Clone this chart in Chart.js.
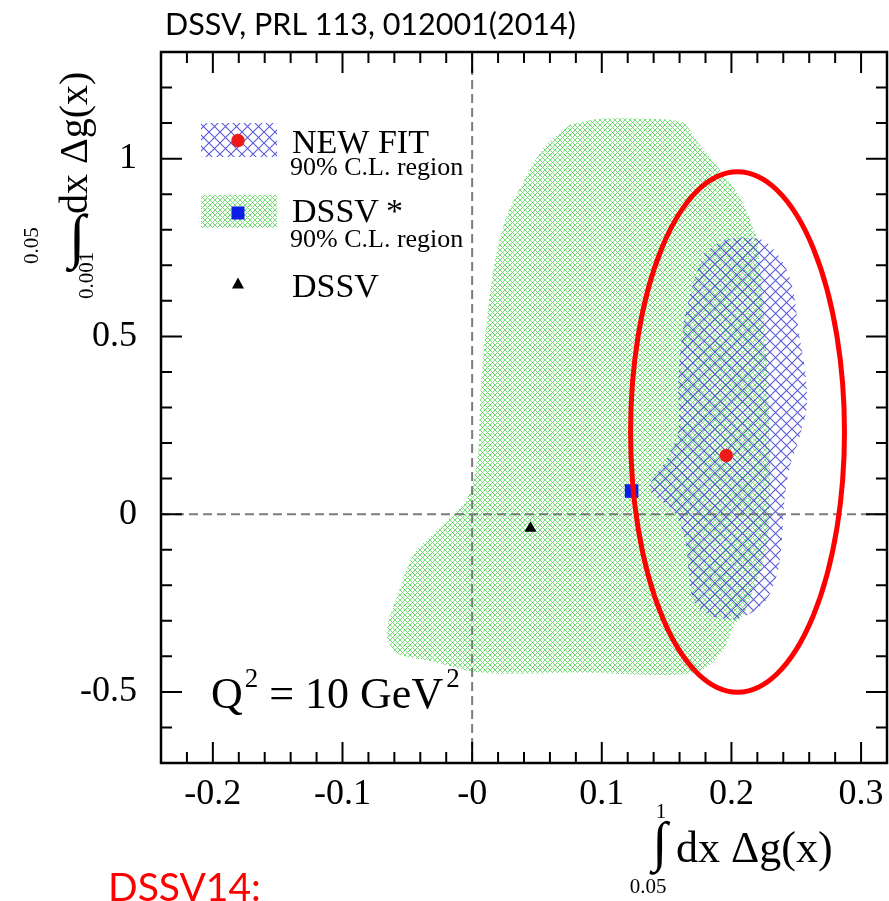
<!DOCTYPE html>
<html>
<head>
<meta charset="utf-8">
<script src="https://cdn.jsdelivr.net/npm/chart.js@4.4.0/dist/chart.umd.min.js"></script>
<style>
  html, body { margin: 0; padding: 0; background: #ffffff; }
  #wrap { width: 889px; height: 901px; position: relative; }
</style>
</head>
<body>
<div id="wrap"><canvas id="c" width="889" height="901"></canvas></div>
<script>
// ---- axis ticks ----
const xTickValues = [-0.2, -0.1, 0, 0.1, 0.2, 0.3];
const xTickLabels = ['-0.2', '-0.1', '-0', '0.1', '0.2', '0.3'];
const yTickValues = [-0.5, 0, 0.5, 1];
const yTickLabels = ['-0.5', '0', '0.5', '1'];

// ---- DSSV* 90% C.L. region (outline, clockwise) ----
const dssvStarRegionX = [0.075, 0.098, 0.137, 0.163, 0.172, 0.189, 0.205, 0.215, 0.220, 0.228, 0.228, 0.210,
  0.202, 0.194, 0.179, 0.158, 0.085, 0.007, -0.032, -0.058, -0.066, -0.056, -0.045, -0.027, -0.004,
  0.004, 0.007, 0.015, 0.025, 0.041, 0.056];
const dssvStarRegionY = [1.095, 1.112, 1.112, 1.101, 1.056, 0.978, 0.900, 0.822, 0.767, 0.377, -0.068, -0.279,
  -0.313, -0.379, -0.435, -0.452, -0.446, -0.446, -0.413, -0.391, -0.335, -0.213, -0.112, -0.046, 0.043,
  0.155, 0.377, 0.655, 0.822, 0.945, 1.034];

// ---- NEW FIT 90% C.L. region (outline, clockwise) ----
const newFitRegionX = [0.179, 0.192, 0.210, 0.226, 0.241, 0.248, 0.252, 0.257, 0.258, 0.252, 0.245, 0.241,
  0.239, 0.236, 0.228, 0.215, 0.202, 0.184, 0.171, 0.167, 0.164, 0.155, 0.137, 0.150, 0.159, 0.159,
  0.163, 0.171];
const newFitRegionY = [0.733, 0.767, 0.778, 0.767, 0.700, 0.622, 0.511, 0.400, 0.299, 0.210, 0.132, 0.043,
  -0.068, -0.157, -0.235, -0.279, -0.296, -0.285, -0.246, -0.157, -0.068, 0.010, 0.071, 0.155, 0.232, 0.377,
  0.533, 0.655];

// ---- central values ----
const newFitX = [0.196], newFitY = [0.165];
const dssvStarX = [0.123], dssvStarY = [0.065];
const dssvX = [0.045], dssvY = [-0.04];

// highlighted area around the new fit (centre and semi-axes in axis units)
const highlight = { cx: 0.2047, cy: 0.231, rx: 0.0825, ry: 0.732 };

const X_MIN = -0.24, X_MAX = 0.32, Y_MIN = -0.7, Y_MAX = 1.3;
const X_MINOR = 0.02, Y_MINOR = 0.1;
const SERIF = '"Liberation Serif", "Times New Roman", serif';
const SANS = 'Lato, "Open Sans", sans-serif';

function toPoints(xs, ys, close) {
  const pts = xs.map((x, i) => ({ x: x, y: ys[i] }));
  if (close) pts.push({ x: xs[0], y: ys[0] });
  return pts;
}

function crossHatch(period, color, width) {
  const c = document.createElement('canvas');
  c.width = period; c.height = period;
  const g = c.getContext('2d');
  g.strokeStyle = color;
  g.lineWidth = width;
  g.beginPath();
  g.moveTo(0, 0); g.lineTo(period, period);
  g.moveTo(period, 0); g.lineTo(0, period);
  g.stroke();
  return g.createPattern(c, 'repeat');
}

const greenHatch = crossHatch(5, 'rgb(115,222,115)', 1);
const blueHatch = crossHatch(11, 'rgb(90,90,215)', 1.1);

// draws text pieces one after another (dx: extra gap before, dy: raise)
function drawRun(ctx, pieces, x, y) {
  for (const p of pieces) {
    ctx.font = p.size + 'px ' + SERIF;
    ctx.fillText(p.text, x + (p.dx || 0), y + (p.dy || 0));
    x += ctx.measureText(p.text).width + (p.dx || 0);
  }
}

const frameAndDecor = {
  id: 'frameAndDecor',
  afterDatasetDraw(chart, args) {
    if (args.index !== 3) return;
    // dashed zero lines
    const ctx = chart.ctx, a = chart.chartArea;
    const x0 = chart.scales.x.getPixelForValue(0);
    const y0 = chart.scales.y.getPixelForValue(0);
    ctx.save();
    ctx.strokeStyle = 'rgba(110,110,110,0.9)';
    ctx.lineWidth = 2;
    ctx.setLineDash([9, 5]);
    ctx.beginPath();
    ctx.moveTo(x0, a.top); ctx.lineTo(x0, a.bottom);
    ctx.moveTo(a.left, y0); ctx.lineTo(a.right, y0);
    ctx.stroke();
    ctx.restore();
  },
  afterDraw(chart) {
    const ctx = chart.ctx, a = chart.chartArea;
    const xs = chart.scales.x, ys = chart.scales.y;
    ctx.save();
    // frame
    ctx.strokeStyle = '#000';
    ctx.lineWidth = 2.5;
    ctx.strokeRect(a.left, a.top, a.right - a.left, a.bottom - a.top);
    // inward ticks on all four sides
    ctx.lineWidth = 2;
    ctx.beginPath();
    for (let k = Math.ceil(X_MIN / X_MINOR - 1e-9); k * X_MINOR <= X_MAX + 1e-9; k++) {
      const v = k * X_MINOR;
      const major = xTickValues.some(t => Math.abs(t - v) < 1e-6);
      const L = major ? 21 : 11;
      const p = xs.getPixelForValue(v);
      ctx.moveTo(p, a.bottom); ctx.lineTo(p, a.bottom - L);
      ctx.moveTo(p, a.top); ctx.lineTo(p, a.top + L);
    }
    for (let k = Math.ceil(Y_MIN / Y_MINOR - 1e-9); k * Y_MINOR <= Y_MAX + 1e-9; k++) {
      const v = k * Y_MINOR;
      const major = yTickValues.some(t => Math.abs(t - v) < 1e-6);
      const L = major ? 21 : 11;
      const p = ys.getPixelForValue(v);
      ctx.moveTo(a.left, p); ctx.lineTo(a.left + L, p);
      ctx.moveTo(a.right, p); ctx.lineTo(a.right - L, p);
    }
    ctx.stroke();

    // legend
    const ds = chart.data.datasets;
    ctx.fillStyle = blueHatch;
    ctx.fillRect(201, 123, 76, 34);
    ctx.fillStyle = greenHatch;
    ctx.fillRect(201, 195, 76, 33);
    ctx.fillStyle = ds[0].pointBackgroundColor;
    ctx.beginPath(); ctx.arc(238, 140.5, 6.7, 0, Math.PI * 2); ctx.fill();
    ctx.fillStyle = ds[1].pointBackgroundColor;
    ctx.fillRect(231.5, 206.5, 13, 13);
    ctx.fillStyle = ds[2].pointBackgroundColor;
    ctx.beginPath(); ctx.moveTo(238, 277.5); ctx.lineTo(244, 288.5); ctx.lineTo(232, 288.5); ctx.closePath(); ctx.fill();

    ctx.fillStyle = '#000';
    ctx.textAlign = 'left';
    ctx.textBaseline = 'alphabetic';
    ctx.font = '34px ' + SERIF;
    ctx.fillText('NEW FIT', 292, 153);
    ctx.fillText('DSSV', 292, 222);
    ctx.fillText('*', 386, 222);
    ctx.fillText('DSSV', 292, 297);
    ctx.font = '26px ' + SERIF;
    ctx.fillText('90% C.L. region', 290, 175);
    ctx.fillText('90% C.L. region', 290, 247);

    // Q^2 label
    drawRun(ctx, [
      { text: 'Q', size: 44 },
      { text: '2', size: 27, dx: 2, dy: -21 },
      { text: ' = 10 GeV', size: 44, dx: 0 },
      { text: '2', size: 27, dx: 3, dy: -21 }
    ], 211, 708);

    // x axis title
    ctx.textAlign = 'center';
    ctx.font = '55px ' + SERIF;
    ctx.fillText('\u222B', 660, 860);
    ctx.font = '21px ' + SERIF;
    ctx.fillText('1', 661, 818);
    ctx.fillText('0.05', 648, 893);
    ctx.textAlign = 'left';
    ctx.font = '44px ' + SERIF;
    ctx.fillText('dx \u0394g(x)', 676, 862);

    // y axis title: upright integral sign, rotated limits and integrand
    ctx.textAlign = 'center';
    ctx.font = '60px ' + SERIF;
    ctx.fillText('\u222B', 77, 256);
    ctx.textAlign = 'left';
    ctx.save();
    ctx.translate(87, 214);
    ctx.rotate(-Math.PI / 2);
    ctx.font = '40px ' + SERIF;
    ctx.fillText('dx \u0394g(x)', 0, 0);
    ctx.restore();
    ctx.save();
    ctx.translate(38, 264);
    ctx.rotate(-Math.PI / 2);
    ctx.font = '21px ' + SERIF;
    ctx.fillText('0.05', 0, 0);
    ctx.restore();
    ctx.save();
    ctx.translate(93, 299);
    ctx.rotate(-Math.PI / 2);
    ctx.font = '21px ' + SERIF;
    ctx.fillText('0.001', 0, 0);
    ctx.restore();

    // headings
    ctx.font = '30.5px ' + SANS;
    ctx.fillStyle = '#000';
    ctx.fillText('DSSV, PRL 113, 012001(2014)', 165, 35);
    ctx.font = '39px ' + SANS;
    ctx.fillStyle = '#ff0000';
    ctx.fillText('DSSV14:', 108, 901);

    // highlight ellipse
    const cx = xs.getPixelForValue(highlight.cx), cy = ys.getPixelForValue(highlight.cy);
    const rx = Math.abs(xs.getPixelForValue(highlight.cx + highlight.rx) - cx);
    const ry = Math.abs(ys.getPixelForValue(highlight.cy + highlight.ry) - cy);
    ctx.strokeStyle = '#ff0000';
    ctx.lineWidth = 5;
    ctx.beginPath();
    ctx.ellipse(cx, cy, rx, ry, 0, 0, Math.PI * 2);
    ctx.stroke();
    ctx.restore();
  }
};

new Chart(document.getElementById('c'), {
  type: 'scatter',
  data: {
    datasets: [
      { label: 'NEW FIT', data: toPoints(newFitX, newFitY), pointStyle: 'circle', pointRadius: 6.7,
        pointBackgroundColor: '#ee1a1a', pointBorderWidth: 0 },
      { label: 'DSSV*', data: toPoints(dssvStarX, dssvStarY), pointStyle: 'rect', pointRadius: 9.6,
        pointBackgroundColor: '#0a1ee6', pointBorderWidth: 0 },
      { label: 'DSSV', data: toPoints(dssvX, dssvY), pointStyle: 'triangle', pointRadius: 7,
        pointBackgroundColor: '#000000', pointBorderWidth: 0 },
      { label: 'NEW FIT 90% C.L. region', data: toPoints(newFitRegionX, newFitRegionY, true), showLine: true,
        fill: 'shape', backgroundColor: blueHatch, borderColor: 'transparent', borderWidth: 0,
        pointRadius: 0, tension: 0.3 },
      { label: 'DSSV* 90% C.L. region', data: toPoints(dssvStarRegionX, dssvStarRegionY, true), showLine: true,
        fill: 'shape', backgroundColor: greenHatch, borderColor: 'transparent', borderWidth: 0,
        pointRadius: 0, tension: 0.3 }
    ]
  },
  options: {
    responsive: false,
    animation: false,
    events: [],
    devicePixelRatio: 1,
    layout: { autoPadding: false, padding: { left: 0, right: 2, top: 52, bottom: 0 } },
    plugins: { legend: { display: false }, tooltip: { enabled: false }, title: { display: false } },
    scales: {
      x: {
        type: 'linear', min: X_MIN, max: X_MAX,
        grid: { display: false, drawTicks: false }, border: { display: false },
        ticks: { autoSkip: false, maxRotation: 0, padding: 10, color: '#000',
          font: { family: SERIF, size: 36 }, callback: (v, i) => xTickLabels[i] },
        afterBuildTicks: s => { s.ticks = xTickValues.map(v => ({ value: v })); },
        afterFit: s => { s.height = 138; s.paddingLeft = 0; s.paddingRight = 0; }
      },
      y: {
        type: 'linear', min: Y_MIN, max: Y_MAX,
        grid: { display: false, drawTicks: false }, border: { display: false },
        ticks: { autoSkip: false, padding: 24, color: '#000',
          font: { family: SERIF, size: 36 }, callback: (v, i) => yTickLabels[i] },
        afterBuildTicks: s => { s.ticks = yTickValues.map(v => ({ value: v })); },
        afterFit: s => { s.width = 161; s.paddingTop = 0; s.paddingBottom = 0; }
      }
    }
  },
  plugins: [frameAndDecor]
});
</script>
</body>
</html>
